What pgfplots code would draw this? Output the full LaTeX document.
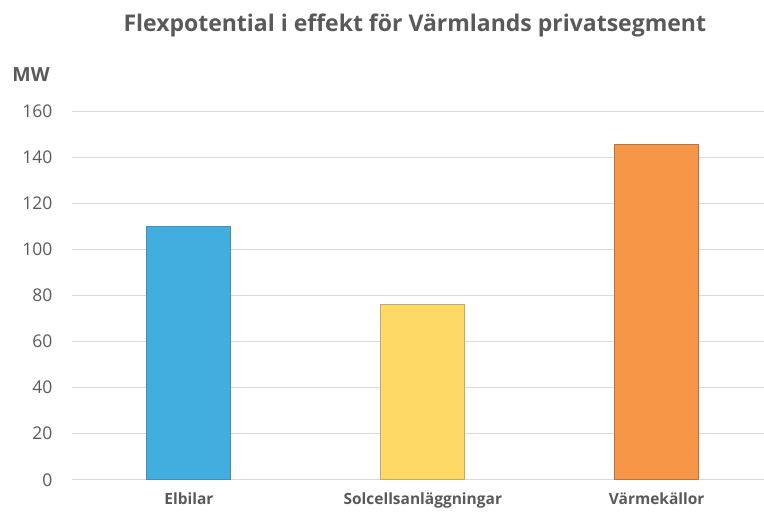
\documentclass[border=0pt]{standalone}
\usepackage{pgfplots}
\pgfplotsset{compat=1.18}
\usepackage{fontspec}
\setmainfont{Open Sans}

\definecolor{txtgray}{HTML}{595959}
\definecolor{gridgray}{HTML}{D9D9D9}
\definecolor{barblue}{HTML}{42AEE0}
\definecolor{barblueedge}{HTML}{4A8DAE}
\definecolor{baryellow}{HTML}{FED966}
\definecolor{baryellowedge}{HTML}{BFAE6A}
\definecolor{barorange}{HTML}{F79646}
\definecolor{barorangeedge}{HTML}{B8733F}

\begin{document}
\begin{tikzpicture}[x=1pt,y=1pt]
  % canvas
  \path (-72,-32) rectangle (692,480);
  \begin{axis}[
    at={(0,0)}, anchor=south west,
    scale only axis,
    width=692pt, height=369pt,
    ymin=0, ymax=160,
    ytick={0,20,...,160},
    xmin=-0.5, xmax=2.457,
    xtick={0,1,2},
    xticklabels={Elbilar,Solcellsanläggningar,Värmekällor},
    xticklabel style={font=\fontsize{15.5}{18}\selectfont\bfseries, text=txtgray, yshift=-9pt},
    yticklabel style={font=\fontsize{17.5}{20}\selectfont, text=txtgray, xshift=-16pt},
    /pgf/number format/assume math mode=true,
    ymajorgrids,
    grid style={gridgray, line width=0.8pt},
    axis line style={draw=none},
    major tick length=0pt,
    ybar, bar width=84pt,
    clip=false,
  ]
    \addplot[fill=barblue, draw=barblueedge, line width=1pt, bar shift=0pt]
      coordinates {(0,110)};
    \addplot[fill=baryellow, draw=baryellowedge, line width=1pt, bar shift=0pt]
      coordinates {(1,76)};
    \addplot[fill=barorange, draw=barorangeedge, line width=1pt, bar shift=0pt]
      coordinates {(2,145.5)};
  \end{axis}
  \node[text=txtgray, font=\fontsize{19.5}{22}\selectfont\bfseries] at (-41,405) {MW};
  \node[text=txtgray, font=\fontsize{23}{26}\selectfont\bfseries] at (343,455)
    {Flexpotential i effekt för Värmlands privatsegment};
\end{tikzpicture}
\end{document}
